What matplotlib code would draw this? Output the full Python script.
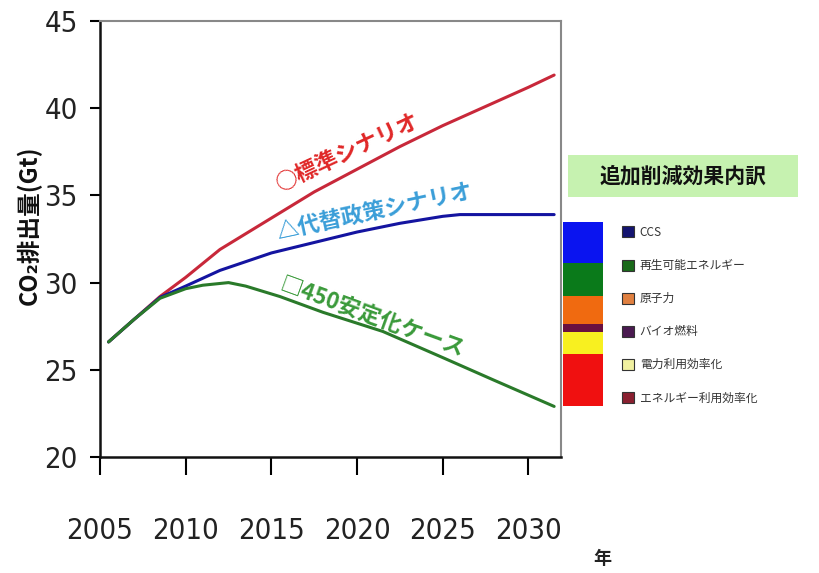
import matplotlib
matplotlib.use("Agg")
import matplotlib.pyplot as plt
from matplotlib.patches import Patch, Rectangle
from matplotlib import font_manager
import numpy as np

plt.rcParams['font.family'] = ['Noto Sans CJK JP', 'DejaVu Sans']

# ---- data ----
red_years = [2005.5, 2007, 2008.5, 2010, 2012, 2015, 2017.5, 2020, 2022.5, 2025, 2027.5, 2030, 2031.5]
red_vals = [26.6, 27.9, 29.2, 30.3, 31.9, 33.7, 35.2, 36.5, 37.8, 39.0, 40.1, 41.2, 41.9]

blue_years = [2005.5, 2007, 2008.5, 2010, 2012, 2015, 2017.5, 2020, 2022.5, 2025, 2026, 2031.5]
blue_vals = [26.6, 27.9, 29.15, 29.8, 30.7, 31.7, 32.3, 32.9, 33.4, 33.8, 33.9, 33.9]

green_years = [2005.5, 2007, 2008.5, 2010, 2011, 2012.5, 2013.5, 2015.5, 2018, 2021.5, 2025, 2028, 2031.5]
green_vals = [26.6, 27.9, 29.1, 29.65, 29.85, 30.0, 29.8, 29.2, 28.3, 27.2, 25.7, 24.4, 22.9]

series_labels = ['○標準シナリオ', '△代替政策シナリオ', '□450安定化ケース']

bar_base = 22.9
bar_segments = [3.0, 1.25, 0.5, 1.6, 1.9, 2.35]   # bottom -> top
bar_colors = ['#f01010', '#f8f020', '#6a1040', '#f06a10', '#0a7a1a', '#0a14f0']

legend_labels = ['CCS', '再生可能エネルギー', '原子力', 'バイオ燃料', '電力利用効率化', 'エネルギー利用効率化']
legend_colors = ['#141470', '#1a6a1a', '#e08040', '#4a1a50', '#f0f0a0', '#8a2030']

xticks = [2005, 2010, 2015, 2020, 2025, 2030]
yticks = [20, 25, 30, 35, 40, 45]

narrow_fp = font_manager.FontProperties(family='DejaVu Sans', stretch='condensed', size=21)

# ---- figure ----
fig = plt.figure(figsize=(8.19, 5.73), dpi=100)
ax = fig.add_axes([100/819, 1-457/573, (561-100)/819, (457-21)/573])

ax.plot(red_years, red_vals, color='#c8283a', lw=2.2, solid_capstyle='round')
ax.plot(blue_years, blue_vals, color='#1414a0', lw=2.2, solid_capstyle='round')
ax.plot(green_years, green_vals, color='#2a7a2a', lw=2.2, solid_capstyle='round')

bottoms = bar_base + np.concatenate([[0], np.cumsum(bar_segments)[:-1]])
ax.bar([2033.2]*len(bar_segments), bar_segments, bottom=bottoms, width=2.35,
       color=bar_colors, clip_on=False, edgecolor='none')

ax.set_xlim(2005, 2031.9)
ax.set_ylim(20, 45)
ax.set_xticks(xticks)
ax.set_yticks(yticks)

ax.set_xticklabels([str(t) for t in xticks], fontproperties=narrow_fp, color='#222222')
ax.set_yticklabels([str(t) for t in yticks], fontproperties=narrow_fp, color='#222222')
ax.tick_params(axis='x', length=13, width=1.5, pad=30, direction='out')
ax.tick_params(axis='y', length=7, width=1.5, pad=9, direction='out')

for s in ['left', 'bottom']:
    ax.spines[s].set_linewidth(1.8)
    ax.spines[s].set_color('#111111')
for s in ['top', 'right']:
    ax.spines[s].set_linewidth(1.5)
    ax.spines[s].set_color('#888888')

ax.text(2019.45, 37.45, series_labels[0], color='#e02828', fontsize=16, fontweight='bold',
        rotation=25, ha='center', va='center', rotation_mode='anchor')
ax.text(2020.99, 34.07, series_labels[1], color='#3a9ed8', fontsize=16, fontweight='bold',
        rotation=12, ha='center', va='center', rotation_mode='anchor')
ax.text(2020.87, 28.0, series_labels[2], color='#3a9a3a', fontsize=16, fontweight='bold',
        rotation=-20, ha='center', va='center', rotation_mode='anchor')

fig.text(29/819, 1-225/573, 'CO₂排出量(Gt)', rotation=90, fontsize=17, fontweight='bold',
         ha='center', va='center', color='#111111')
fig.text(602/819, 1-558/573, '年', fontsize=13, fontweight='bold', ha='center', va='center',
         color='#222222')

fig.patches.append(Rectangle((568/819, 1-197/573), 230/819, 42/573, transform=fig.transFigure,
                             facecolor='#c6f2b0', edgecolor='none', zorder=0))
fig.text(683/819, 1-176/573, '追加削減効果内訳', fontsize=15, fontweight='bold',
         ha='center', va='center', color='#111111')

handles = [Patch(facecolor=c, edgecolor='#333333', linewidth=0.8) for c in legend_colors]
fig.legend(handles, legend_labels, loc='upper left', bbox_to_anchor=(622/819, 1-226/573),
           frameon=False, fontsize=8.5, handlelength=1.05, handleheight=1.05,
           handletextpad=0.45, labelspacing=1.7, borderpad=0, borderaxespad=0,
           labelcolor='#333333')

fig.savefig('out.png', dpi=100)
